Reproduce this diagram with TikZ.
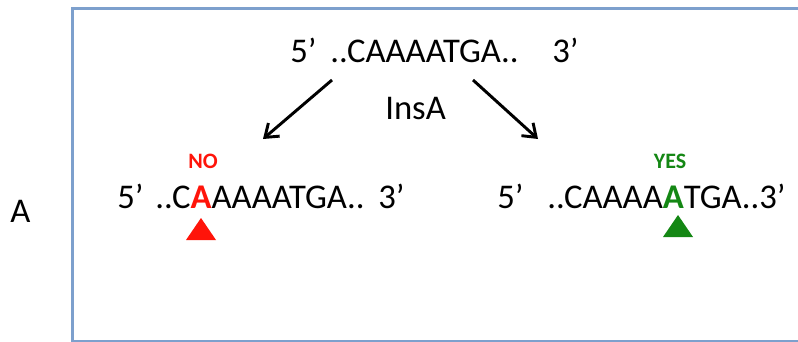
\documentclass[tikz,border=0pt]{standalone}
\usetikzlibrary{arrows.meta}
\usepackage{fontspec}
\setmainfont{Carlito}
\definecolor{boxblue}{RGB}{125,160,205}
\definecolor{nored}{RGB}{255,20,10}
\definecolor{yesgreen}{RGB}{20,135,20}
\begin{document}
\begin{tikzpicture}[x=0.75pt,y=-0.75pt,
  seq/.style={inner sep=0pt,anchor=base west,font=\fontsize{26}{30}\selectfont},
  tag/.style={inner sep=0pt,anchor=base,font=\bfseries\fontsize{16.5}{18}\selectfont},
  arr/.style={-{Straight Barb[length=9pt,width=13pt]},line width=2.2pt}]
\useasboundingbox (0,0) rectangle (798,342);
\draw[boxblue,line width=1.6pt] (900,8.5) -- (72.5,8.5) -- (72.5,341) -- (900,341);
\node[seq] (lbl) at (10,222) {A};
% top
\node[seq] (t5) at (290,63) {5’};
\node[seq] (tseq) at (330,63) {..CAAAATGA..};
\node[seq] (t3) at (552,63) {3’};
\node[seq] (ins) at (385,120) {InsA};
% left
\node[seq] (l5) at (117,208) {5’};
\node[seq] (lseq) at (155,208) {..C\textcolor{nored}{\bfseries A}AAAATGA..};
\node[seq] (l3) at (378,208) {3’};
\node[tag,text=nored] (no) at (203,168) {NO};
% right
\node[seq] (r5) at (497,208) {5’};
\node[seq] (rseq) at (547,208) {..CAAAA\textcolor{yesgreen}{\bfseries A}TGA..3’};
\node[tag,text=yesgreen] (yes) at (670,168) {YES};
% triangles
\fill[nored] (201,218) -- (216,240) -- (186,240) -- cycle;
\fill[yesgreen] (678,215) -- (693,237) -- (663,237) -- cycle;
% arrows
\coordinate (la) at (332,80);
\coordinate (lb) at (263,139);
\coordinate (ra) at (473,80);
\coordinate (rb) at (538,139);
\draw[arr] (la) -- (lb);
\draw[arr] (ra) -- (rb);
\end{tikzpicture}
\end{document}
